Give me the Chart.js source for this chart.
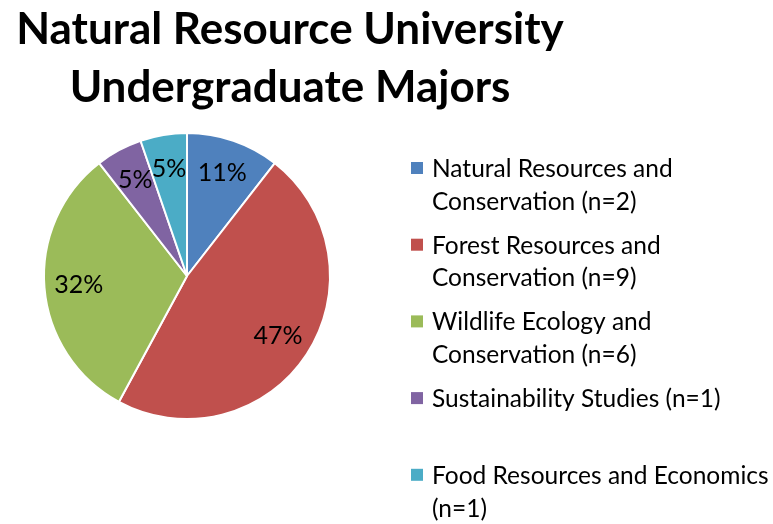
<!DOCTYPE html>
<html>
<head>
<meta charset="utf-8">
<script src="https://cdn.jsdelivr.net/npm/chart.js@4.4.1/dist/chart.umd.min.js"></script>
<style>
  html, body { margin: 0; padding: 0; background: #fff; }
  #wrap { width: 773px; height: 524px; }
</style>
</head>
<body>
<div id="wrap"><canvas id="majorsChart" width="773" height="524"></canvas></div>
<script>
const titleLines = ["Natural Resource University", "Undergraduate Majors"];
const majorLines = [
  ["Natural Resources and", "Conservation (n=2)"],
  ["Forest Resources and", "Conservation (n=9)"],
  ["Wildlife Ecology and", "Conservation (n=6)"],
  ["Sustainability Studies (n=1)"],
  ["Food Resources and Economics", "(n=1)"],
];
const students = [2, 9, 6, 1, 1];
const sliceColors = ["#4F81BD", "#C0504D", "#9BBB59", "#8064A2", "#4BACC6"];

const FONT = "Lato, 'Open Sans', sans-serif";

// percentage text inside each slice
const sliceLabels = {
  id: "sliceLabels",
  afterDatasetsDraw(chart) {
    const ctx = chart.ctx;
    const data = chart.data.datasets[0].data;
    const total = data.reduce((a, b) => a + b, 0);
    ctx.save();
    ctx.fillStyle = "#000";
    ctx.font = "25px " + FONT;
    ctx.textAlign = "center";
    ctx.textBaseline = "middle";
    chart.getDatasetMeta(0).data.forEach((arc, i) => {
      const p = arc.getProps(["x", "y", "startAngle", "endAngle", "outerRadius"], true);
      const mid = (p.startAngle + p.endAngle) / 2;
      const r = p.outerRadius * 0.76;
      const pct = Math.round(data[i] / total * 100) + "%";
      ctx.fillText(pct, p.x + Math.cos(mid) * r, p.y + Math.sin(mid) * r);
    });
    ctx.restore();
  }
};

// two-line bold title plus a legend with wrapped entries on the right
const titleAndLegend = {
  id: "titleAndLegend",
  afterDraw(chart) {
    const ctx = chart.ctx;
    ctx.save();
    ctx.fillStyle = "#000";
    ctx.textBaseline = "alphabetic";
    ctx.font = "bold 44px " + FONT;
    ctx.textAlign = "center";
    titleLines.forEach((t, i) => ctx.fillText(t, 290, 44 + i * 58));

    ctx.font = "24.5px " + FONT;
    ctx.textAlign = "left";
    majorLines.forEach((lines, i) => {
      const base = 177 + i * 76.7;
      ctx.fillStyle = sliceColors[i];
      ctx.fillRect(411, base - 15, 12, 12);
      ctx.fillStyle = "#000";
      lines.forEach((t, j) => ctx.fillText(t, 432, base + j * 32.7));
    });
    ctx.restore();
  }
};

new Chart(document.getElementById("majorsChart"), {
  type: "pie",
  data: {
    labels: majorLines.map(l => l.join(" ")),
    datasets: [{
      data: students,
      backgroundColor: sliceColors,
      borderColor: "#fff",
      borderWidth: 2,
      hoverOffset: 0,
    }],
  },
  options: {
    responsive: false,
    animation: false,
    layout: { padding: { left: 43, top: 132, right: 442, bottom: 104 } },
    plugins: {
      legend: { display: false },
      title: { display: false },
      tooltip: { enabled: false },
    },
  },
  plugins: [sliceLabels, titleAndLegend],
});
</script>
</body>
</html>
